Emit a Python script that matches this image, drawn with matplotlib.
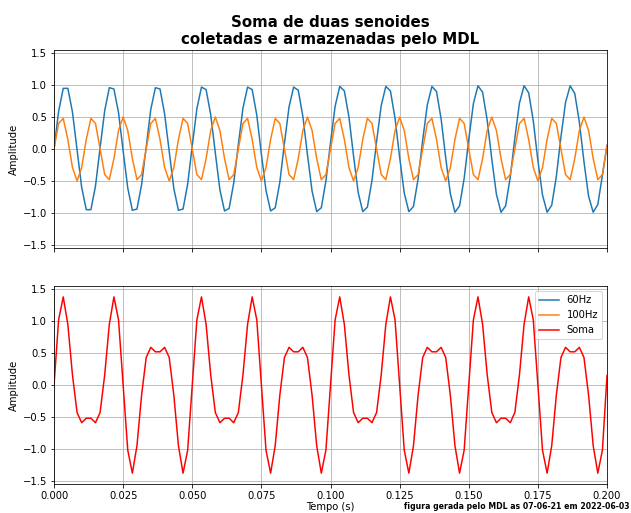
import numpy as np
import matplotlib
matplotlib.use("Agg")
import matplotlib.pyplot as plt

# amostras (600 amostras/s, 0 a 0.2 s)
t = np.linspace(0, 0.2, 121)

s60 = [0.00, 0.59, 0.95, 0.95, 0.58, -0.01, -0.60, -0.95, -0.95, -0.58,
       0.02, 0.60, 0.96, 0.94, 0.57, -0.03, -0.61, -0.96, -0.94, -0.56,
       0.03, 0.62, 0.96, 0.94, 0.55, -0.04, -0.62, -0.96, -0.94, -0.55,
       0.05, 0.63, 0.97, 0.93, 0.54, -0.06, -0.64, -0.97, -0.93, -0.53,
       0.07, 0.64, 0.97, 0.93, 0.53, -0.08, -0.65, -0.97, -0.92, -0.52,
       0.09, 0.66, 0.97, 0.92, 0.51, -0.09, -0.66, -0.98, -0.92, -0.50,
       0.10, 0.67, 0.98, 0.91, 0.50, -0.11, -0.68, -0.98, -0.91, -0.49,
       0.12, 0.68, 0.98, 0.91, 0.48, -0.13, -0.69, -0.98, -0.90, -0.47,
       0.14, 0.69, 0.98, 0.90, 0.47, -0.14, -0.70, -0.99, -0.89, -0.46,
       0.15, 0.71, 0.99, 0.89, 0.45, -0.16, -0.71, -0.99, -0.89, -0.44,
       0.17, 0.72, 0.99, 0.88, 0.44, -0.18, -0.72, -0.99, -0.88, -0.43,
       0.19, 0.73, 0.99, 0.87, 0.42, -0.20, -0.74, -0.99, -0.87, -0.41,
       0.06]

s100 = [0.00, 0.40, 0.48, 0.15, -0.29, -0.50, -0.29, 0.15, 0.48, 0.40,
        0.00, -0.40, -0.48, -0.15, 0.29, 0.50, 0.29, -0.15, -0.48, -0.40,
        0.00, 0.40, 0.48, 0.15, -0.29, -0.50, -0.29, 0.15, 0.48, 0.40,
        0.00, -0.40, -0.48, -0.15, 0.29, 0.50, 0.29, -0.15, -0.48, -0.40,
        0.00, 0.40, 0.48, 0.15, -0.29, -0.50, -0.29, 0.15, 0.48, 0.40,
        0.00, -0.40, -0.48, -0.15, 0.29, 0.50, 0.29, -0.15, -0.48, -0.40,
        0.00, 0.40, 0.48, 0.15, -0.29, -0.50, -0.29, 0.15, 0.48, 0.40,
        0.00, -0.40, -0.48, -0.15, 0.29, 0.50, 0.29, -0.15, -0.48, -0.40,
        0.00, 0.40, 0.48, 0.15, -0.29, -0.50, -0.29, 0.15, 0.48, 0.40,
        0.00, -0.40, -0.48, -0.15, 0.29, 0.50, 0.29, -0.15, -0.48, -0.40,
        0.00, 0.40, 0.48, 0.15, -0.29, -0.50, -0.29, 0.15, 0.48, 0.40,
        0.00, -0.40, -0.48, -0.15, 0.29, 0.50, 0.29, -0.15, -0.48, -0.40,
        0.05]

soma = [0.00, 1.02, 1.38, 0.95, 0.16, -0.43, -0.59, -0.52, -0.52, -0.59,
        -0.43, 0.16, 0.95, 1.38, 1.02, 0.00, -1.02, -1.38, -0.95, -0.16,
        0.43, 0.59, 0.52, 0.52, 0.59, 0.43, -0.16, -0.95, -1.38, -1.02,
        0.00, 1.02, 1.38, 0.95, 0.16, -0.43, -0.59, -0.52, -0.52, -0.59,
        -0.43, 0.16, 0.95, 1.38, 1.02, 0.00, -1.02, -1.38, -0.95, -0.16,
        0.43, 0.59, 0.52, 0.52, 0.59, 0.43, -0.16, -0.95, -1.38, -1.02,
        0.00, 1.02, 1.38, 0.95, 0.16, -0.43, -0.59, -0.52, -0.52, -0.59,
        -0.43, 0.16, 0.95, 1.38, 1.02, 0.00, -1.02, -1.38, -0.95, -0.16,
        0.43, 0.59, 0.52, 0.52, 0.59, 0.43, -0.16, -0.95, -1.38, -1.02,
        0.00, 1.02, 1.38, 0.95, 0.16, -0.43, -0.59, -0.52, -0.52, -0.59,
        -0.43, 0.16, 0.95, 1.38, 1.02, 0.00, -1.02, -1.38, -0.95, -0.16,
        0.43, 0.59, 0.52, 0.52, 0.59, 0.43, -0.16, -0.95, -1.38, -1.02,
        0.15]

fig, axes = plt.subplots(nrows=2, sharex=True, figsize=(631/72, 513/72), dpi=72)
fig.subplots_adjust(left=0.0856, right=0.962, bottom=0.0565, top=0.9025, hspace=0.192)

l1, = axes[0].plot(t, s60, color='tab:blue', label='60Hz')
l2, = axes[0].plot(t, s100, color='tab:orange', label='100Hz')
l3, = axes[1].plot(t, soma, color='red', label='Soma')

for ax in axes:
    ax.set_ylim(-1.55, 1.55)
    ax.set_xlim(0, 0.2)
    ax.grid(True)
    ax.set_ylabel('Amplitude')

axes[0].set_title('Soma de duas senoides\ncoletadas e armazenadas pelo MDL',
                  fontsize=15, fontweight='bold')
axes[1].legend(handles=[l1, l2, l3], loc='upper right')
axes[1].set_xlabel('Tempo (s)', labelpad=1)

fig.text(0.998, 0.007, 'figura gerada pelo MDL as 07-06-21 em 2022-06-03',
         ha='right', va='baseline', fontsize=7.8, fontweight='bold')

fig.savefig('out.png', dpi=72)
